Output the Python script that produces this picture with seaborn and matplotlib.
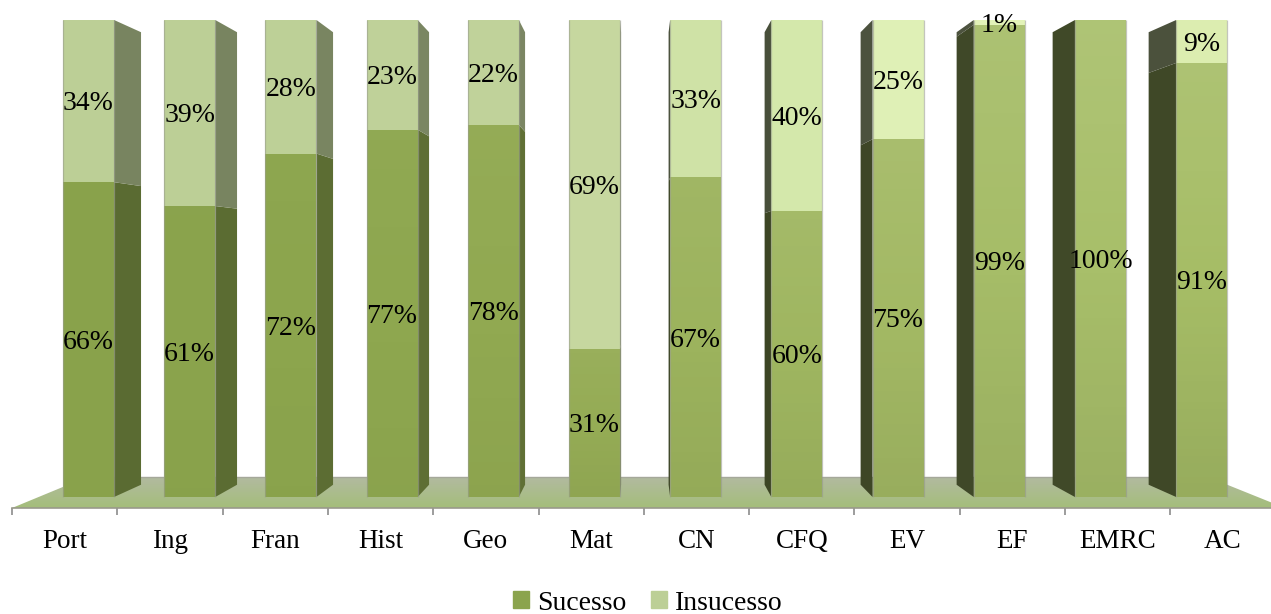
import numpy as np
import pandas as pd
import matplotlib
matplotlib.use('Agg')
import matplotlib.pyplot as plt
from matplotlib.patches import Patch, Polygon
import seaborn as sns

disciplinas = ['Port', 'Ing', 'Fran', 'Hist', 'Geo', 'Mat', 'CN', 'CFQ', 'EV', 'EF', 'EMRC', 'AC']
sucesso = [66, 61, 72, 77, 78, 31, 67, 60, 75, 99, 100, 91]
insucesso = [34, 39, 28, 23, 22, 69, 33, 40, 25, 1, 0, 9]

cores_sucesso = ['#89a24b', '#8aa34c', '#8ca54d', '#8ea74f', '#91a951', '#95ac55',
                 '#9cb35d', '#9fb660', '#a3b964', '#a6bd68', '#a8bf6a', '#a6bd66']
cores_insucesso = ['#bccf96', '#bccf96', '#bdd097', '#bfd199', '#c0d29a', '#c6d79f',
                   '#cfe2a6', '#d4e8ab', '#dff0b6', '#e3f3b8', '#e3f3b8', '#dcedb0']

sns.set_theme(style='white')
plt.rcParams['font.family'] = ['Liberation Serif', 'DejaVu Serif']
plt.rcParams['text.color'] = 'black'

W, H = 1271, 614
fig = plt.figure(figsize=(W / 100, H / 100), dpi=100)

# floor of the 3d chart, in pixel coords
ax_floor = fig.add_axes([0, 0, 1, 1], zorder=0)
ax_floor.set_xlim(0, W)
ax_floor.set_ylim(H, 0)
ax_floor.axis('off')
grad = np.linspace(0, 1, 64).reshape(-1, 1, 1)
topc = np.array([178, 186, 160]) / 255
botc = np.array([164, 190, 122]) / 255
img = ax_floor.imshow(topc + (botc - topc) * grad, extent=(0, W, 508, 477), aspect='auto')
shape = Polygon([(12, 508), (87, 477), (1208, 477), (1285, 508)], closed=True,
                transform=ax_floor.transData, fc='none', ec='none')
ax_floor.add_patch(shape)
img.set_clip_path(shape)
ax_floor.plot([87, 1208], [477, 477], color='#a5a89a', lw=1)
ax_floor.set_xlim(0, W)
ax_floor.set_ylim(H, 0)

# bars, data coords mapped so 0-100 lands on the front faces
ax = fig.add_axes([0, 0, 1, 1], zorder=2)
ax.patch.set_visible(False)
df = pd.DataFrame({'disc': disciplinas, 'suc': sucesso, 'ins': insucesso})
df['total'] = df['suc'] + df['ins']
sns.barplot(data=df, x='disc', y='total', hue='disc', palette=cores_insucesso, width=0.505,
            legend=False, saturation=1, ax=ax, edgecolor='none', zorder=3)
n = len(disciplinas)
sns.barplot(data=df, x='disc', y='suc', hue='disc', palette=cores_sucesso, width=0.505,
            legend=False, saturation=1, ax=ax, edgecolor='none', zorder=3.5)
xlim = ((0 - 88.5) / 101.2, (W - 88.5) / 101.2)
ylim = ((497 - H) / 4.77, 497 / 4.77)

# side faces go towards one vanishing point
vx, vy, k = 5.45, 50.1, 0.0513


def back(x, y):
    return x + (vx - x) * k, y + (vy - y) * k


def shade(cor, f):
    return tuple(np.array(matplotlib.colors.to_rgb(cor)) * f)


total_bars = ax.patches[:n]
suc_bars = ax.patches[n:2 * n]
for i in range(n):
    pt, ps = total_bars[i], suc_bars[i]
    x0, w = ps.get_x(), ps.get_width()
    edge = x0 + w if i < 6 else x0
    fs = 0.66 if i < 6 else 0.38
    fi = 0.64 if i < 6 else 0.34
    low = ps.get_height()
    top = pt.get_height()
    ax.add_patch(Polygon([(edge, 0), back(edge, 0), back(edge, low), (edge, low)], closed=True,
                         fc=shade(ps.get_facecolor()[:3], fs), ec='none', zorder=2))
    ax.text(x0 + w / 2, low / 2 - 0.6, f'{sucesso[i]}%', ha='center', va='center', fontsize=20, zorder=6)
    if insucesso[i] > 0:
        ax.add_patch(Polygon([(edge, low), back(edge, low), back(edge, top), (edge, top)], closed=True,
                             fc=shade(pt.get_facecolor()[:3], fi), ec='none', zorder=2))
        ax.text(x0 + w / 2, (low + top) / 2 - 0.6, f'{insucesso[i]}%', ha='center', va='center',
                fontsize=20, zorder=6)

    # light top, darker foot, stronger on the right hand bars
    forca = i / (n - 1)
    ramp = np.linspace(1, -1, 64) * forca
    rgba = np.zeros((64, 1, 4))
    rgba[..., :3] = (ramp > 0).reshape(-1, 1, 1)
    rgba[..., 3] = np.abs(ramp).reshape(-1, 1) * 0.09
    sombra = ax.imshow(rgba, extent=(x0, x0 + w, 0, low), aspect='auto', zorder=4)
    sombra.set_clip_path(ps)

    # thin grey edge left and right of the front face
    ax.vlines([x0, x0 + w], 0, top, color='#9b9f90', lw=0.9, alpha=0.6, zorder=5)

ax.set_xlim(xlim)
ax.set_ylim(ylim)
ax.axis('off')

# axis with the ticks between the categories
ax_x = fig.add_axes([12 / W, (H - 508) / H, (W - 12) / W, 0.001], zorder=1)
ax_x.patch.set_visible(False)
ax_x.set_xlim(-0.5, 11.456)
ax_x.set_yticks([])
ax_x.set_xticks(np.arange(n) - 0.5)
ax_x.set_xticklabels([])
ax_x.set_xticks(np.arange(n), labels=disciplinas, minor=True)
ax_x.tick_params(axis='x', which='major', bottom=True, length=5, width=1.2, color='#8c8c8c')
ax_x.tick_params(axis='x', which='minor', bottom=False, length=0, pad=15, labelsize=19.5, labelcolor='black')
for s in ['top', 'left', 'right']:
    ax_x.spines[s].set_visible(False)
ax_x.spines['bottom'].set_color('#9a9a8c')
ax_x.spines['bottom'].set_linewidth(1.2)

handles = [Patch(color='#8ba44d', label='Sucesso'), Patch(color='#bccf96', label='Insucesso')]
fig.legend(handles=handles, loc='center', bbox_to_anchor=(648 / W, (H - 603) / H), ncol=2,
           frameon=False, fontsize=20, handlelength=0.55, handleheight=0.55,
           handletextpad=0.3, columnspacing=0.9, borderpad=0, borderaxespad=0, labelcolor='black')

fig.savefig('out.png', dpi=100)
plt.close(fig)
